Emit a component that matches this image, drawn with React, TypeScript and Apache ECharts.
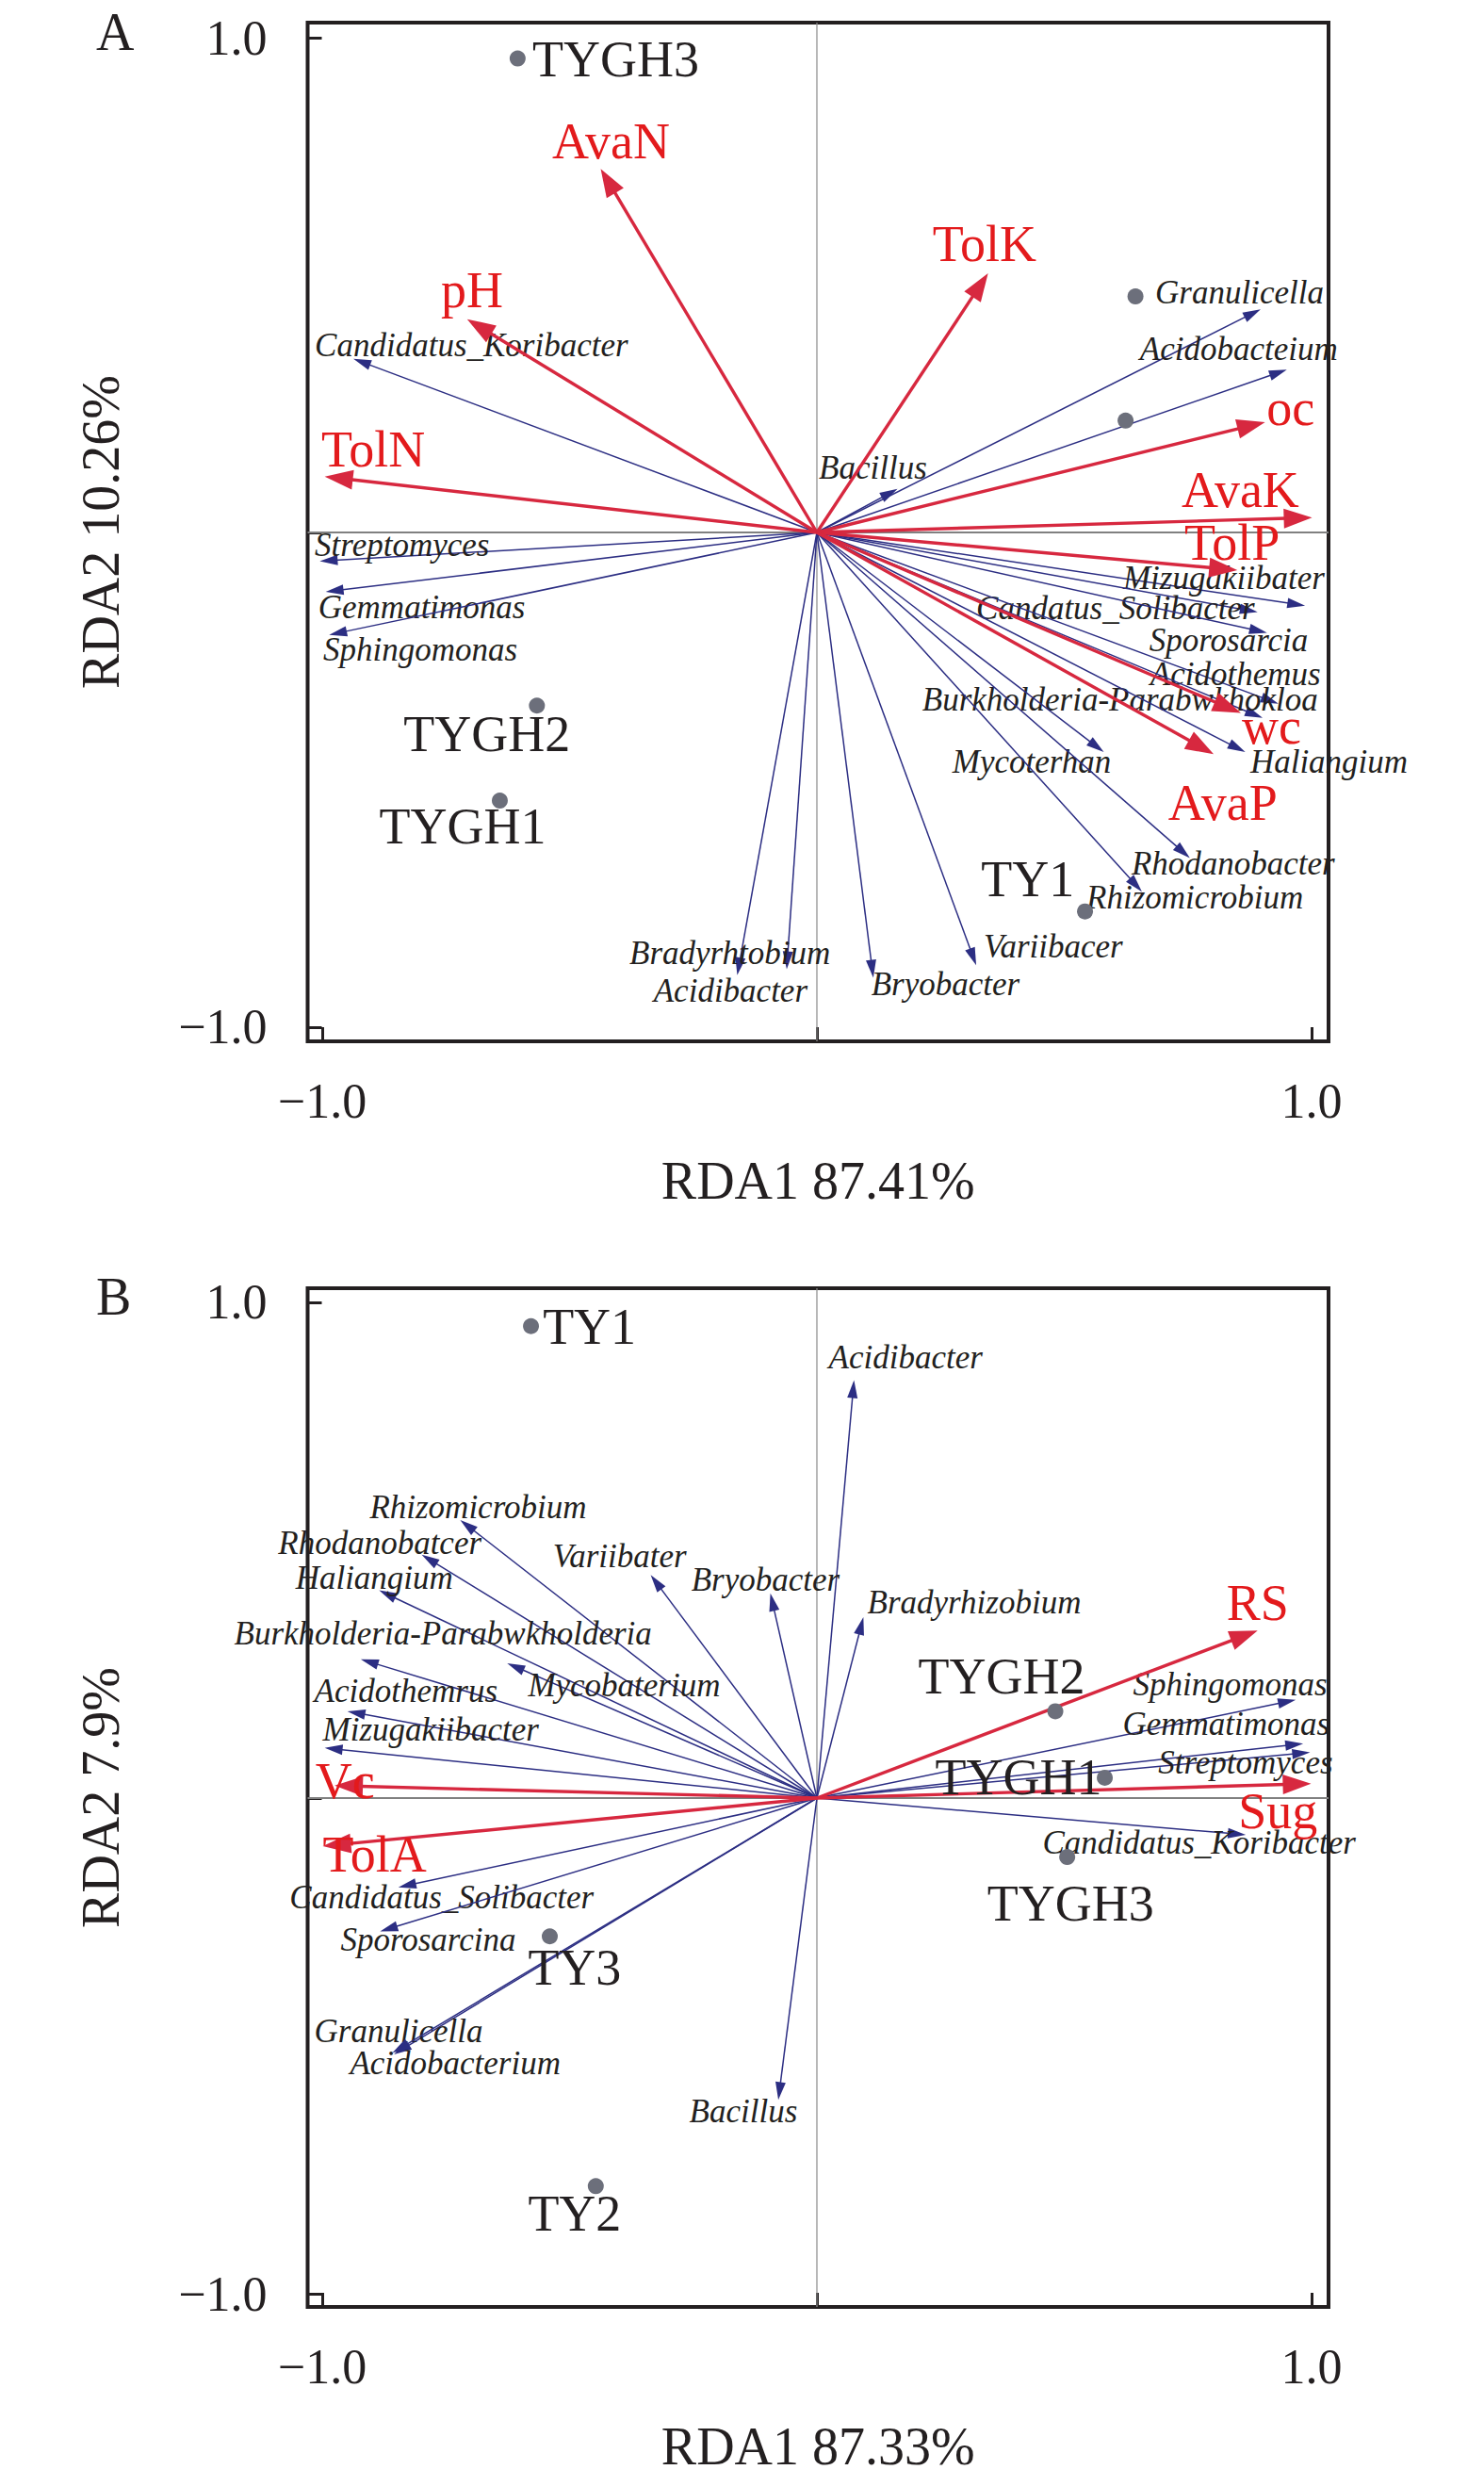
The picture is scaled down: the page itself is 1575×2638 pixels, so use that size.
import React, { useEffect, useRef } from 'react';
import * as echarts from 'echarts';

const FONT = '"Liberation Serif", "Times New Roman", serif';
const INK = '#231f20';
const RED_ARROW = '#d7283f';
const RED_TEXT = '#e31a1c';
const BLUE = '#2c2e83';
const DOT = '#6c6f7b';

// ---------- ticks ----------
const tickValues = [-1, 0, 1];
const tickLabelValues = [-1, 1];

// ---------- Panel A ----------
const axisNamesA = { x: 'RDA1 87.41%', y: 'RDA2 10.26%' };
const envA: [string, number, number][] = [
  ['AvaN', -0.437, 0.735],
  ['pH', -0.707, 0.431],
  ['TolN', -0.995, 0.113],
  ['TolK', 0.346, 0.524],
  ['oc', 0.906, 0.223],
  ['AvaK', 1.001, 0.03],
  ['TolP', 0.85, -0.076],
  ['wc', 0.857, -0.365],
  ['AvaP', 0.802, -0.448],
];
const envLabelA: [number, number][] = [
  [-0.535, 0.79], [-0.76, 0.49], [-1.002, 0.168], [0.234, 0.583], [0.909, 0.252],
  [0.737, 0.086], [0.743, -0.021], [0.859, -0.393], [0.71, -0.547],
];
const speciesA: [string, number, number][] = [
  ['Candidatus_Koribacter', -0.937, 0.351],
  ['Streptomyces', -1.005, -0.058],
  ['Gemmatimonas', -0.993, -0.12],
  ['Sphingomonas', -0.986, -0.207],
  ['Bacillus', 0.163, 0.088],
  ['Granulicella', 0.897, 0.451],
  ['Acidobacteium', 0.95, 0.329],
  ['Mizugakiibater', 0.987, -0.148],
  ['Candatus_Solibacter', 0.891, -0.161],
  ['Sporosarcia', 0.91, -0.203],
  ['Acidothemus', 0.933, -0.346],
  ['Burkholderia-Parabwkhokloa', 0.901, -0.375],
  ['Haliangium', 0.866, -0.444],
  ['Mycoterhan', 0.58, -0.444],
  ['Rhodanobacter', 0.754, -0.658],
  ['Rhizomicrobium', 0.657, -0.726],
  ['Variibacer', 0.322, -0.875],
  ['Bryobacter', 0.114, -0.9],
  ['Acidibacter', -0.061, -0.883],
  ['Bradyrhtobium', -0.161, -0.895],
];
const speciesLabelA: [number, number][] = [
  [-1.015, 0.379], [-1.015, -0.025], [-1.008, -0.152], [-0.998, -0.238], [0.004, 0.131],
  [0.684, 0.484], [0.653, 0.37], [0.619, -0.093], [0.322, -0.154], [0.672, -0.219],
  [0.674, -0.286], [0.213, -0.339], [0.876, -0.463], [0.274, -0.463], [0.636, -0.669],
  [0.545, -0.739], [0.337, -0.838], [0.11, -0.914], [-0.33, -0.926], [-0.379, -0.851],
];
const samplesA: [string, number, number][] = [
  ['TYGH3', -0.605, 0.958],
  ['TYGH2', -0.566, -0.35],
  ['TYGH1', -0.641, -0.542],
  ['TY1', 0.542, -0.766],
  ['', 0.644, 0.477],
  ['', 0.624, 0.226],
];
const sampleLabelA: [number, number, string][] = [
  [-0.575, 0.956, 'left'], [-0.667, -0.408, 'center'], [-0.716, -0.595, 'center'],
  [0.426, -0.701, 'center'], [0, 0, 'left'], [0, 0, 'left'],
];

// ---------- Panel B ----------
const axisNamesB = { x: 'RDA1 87.33%', y: 'RDA2 7.9%' };
const envB: [string, number, number][] = [
  ['RS', 0.891, 0.338],
  ['Sug', 0.999, 0.029],
  ['Vc', -0.975, 0.025],
  ['TolA', -0.999, -0.097],
];
const envLabelB: [number, number][] = [
  [0.828, 0.394], [0.852, -0.027], [-1.014, 0.034], [-0.999, -0.114],
];
const speciesB: [string, number, number][] = [
  ['Acidibacter', 0.075, 0.843],
  ['Rhizomicrobium', -0.721, 0.561],
  ['Rhodanobatcer', -0.799, 0.491],
  ['Haliangium', -0.885, 0.419],
  ['Variibater', -0.336, 0.45],
  ['Bryobacter', -0.094, 0.413],
  ['Bradyrhizobium', 0.094, 0.365],
  ['Burkholderia-Parabwkholderia', -0.922, 0.28],
  ['Mycobaterium', -0.626, 0.272],
  ['Acidothemrus', -0.949, 0.175],
  ['Mizugakiibacter', -0.995, 0.101],
  ['Sphingomonas', 0.968, 0.198],
  ['Gemmatimonas', 0.983, 0.11],
  ['Streptomyces', 0.997, 0.092],
  ['Candidatus_Koribacter', 0.867, -0.074],
  ['Candidatus_Solibacter', -0.846, -0.18],
  ['Sporosarcina', -0.883, -0.269],
  ['Granulicella', -0.855, -0.517],
  ['Acidobacterium', -0.858, -0.514],
  ['Bacillus', -0.078, -0.609],
];
const speciesLabelB: [number, number][] = [
  [0.024, 0.888], [-0.904, 0.586], [-1.089, 0.515], [-1.054, 0.443], [-0.534, 0.487],
  [-0.254, 0.441], [0.102, 0.395], [-1.178, 0.331], [-0.584, 0.228], [-1.016, 0.215],
  [-0.999, 0.137], [0.639, 0.23], [0.618, 0.15], [0.69, 0.072], [0.456, -0.091],
  [-1.066, -0.2], [-0.963, -0.287], [-1.016, -0.47], [-0.944, -0.536], [-0.258, -0.633],
];
const samplesB: [string, number, number][] = [
  ['TY1', -0.578, 0.952],
  ['TYGH2', 0.482, 0.175],
  ['TYGH1', 0.582, 0.041],
  ['TYGH3', 0.506, -0.119],
  ['TY3', -0.54, -0.279],
  ['TY2', -0.447, -0.783],
];
const sampleLabelB: [number, number, string][] = [
  [-0.554, 0.951, 'left'], [0.205, 0.245, 'left'], [0.239, 0.042, 'left'],
  [0.513, -0.213, 'center'], [-0.584, -0.342, 'left'], [-0.584, -0.839, 'left'],
];

type ArrowStyle = {
  color: string; textColor: string; lw: number; headLen: number; headW: number;
  fontSize: number; fontStyle: string;
};

const redStyle: ArrowStyle = { color: RED_ARROW, textColor: RED_TEXT, lw: 3.4, headLen: 30, headW: 21, fontSize: 54, fontStyle: 'normal' };
const blueStyle: ArrowStyle = { color: BLUE, textColor: INK, lw: 1.5, headLen: 19, headW: 11, fontSize: 35, fontStyle: 'italic' };

function arrowSeries(
  vecs: [string, number, number][],
  labels: [number, number][],
  st: ArrowStyle,
  axisIndex: number,
  z: number,
) {
  return {
    type: 'custom',
    xAxisIndex: axisIndex,
    yAxisIndex: axisIndex,
    clip: false,
    silent: true,
    z,
    encode: { x: 0, y: 1 },
    data: vecs.map((v, i) => [v[1], v[2], labels[i][0], labels[i][1]]),
    renderItem: (params: any, api: any) => {
      const i = params.dataIndex;
      const o = api.coord([0, 0]);
      const t = api.coord([api.value(0), api.value(1)]);
      const dx = t[0] - o[0];
      const dy = t[1] - o[1];
      const len = Math.hypot(dx, dy) || 1;
      const ux = dx / len;
      const uy = dy / len;
      const bx = t[0] - ux * st.headLen;
      const by = t[1] - uy * st.headLen;
      const px = -uy * (st.headW / 2);
      const py = ux * (st.headW / 2);
      const lp = api.coord([api.value(2), api.value(3)]);
      return {
        type: 'group',
        children: [
          {
            type: 'line',
            shape: { x1: o[0], y1: o[1], x2: bx + ux * 3, y2: by + uy * 3 },
            style: { stroke: st.color, lineWidth: st.lw },
          },
          {
            type: 'polygon',
            shape: { points: [[t[0], t[1]], [bx + px, by + py], [bx - px, by - py]] },
            style: { fill: st.color },
          },
          {
            type: 'text',
            x: lp[0],
            y: lp[1],
            style: {
              text: vecs[i][0],
              fill: st.textColor,
              fontSize: st.fontSize,
              fontFamily: FONT,
              fontStyle: st.fontStyle,
              align: 'left',
              verticalAlign: 'middle',
            },
          },
        ],
      };
    },
  };
}

function sampleSeries(
  pts: [string, number, number][],
  labels: [number, number, string][],
  axisIndex: number,
) {
  return {
    type: 'custom',
    xAxisIndex: axisIndex,
    yAxisIndex: axisIndex,
    clip: false,
    silent: true,
    z: 6,
    encode: { x: 0, y: 1 },
    data: pts.map((p, i) => [p[1], p[2], labels[i][0], labels[i][1]]),
    renderItem: (params: any, api: any) => {
      const i = params.dataIndex;
      const c = api.coord([api.value(0), api.value(1)]);
      const children: any[] = [
        { type: 'circle', shape: { cx: c[0], cy: c[1], r: 8.5 }, style: { fill: DOT } },
      ];
      if (pts[i][0]) {
        const lp = api.coord([api.value(2), api.value(3)]);
        children.push({
          type: 'text',
          x: lp[0],
          y: lp[1],
          style: {
            text: pts[i][0],
            fill: INK,
            fontSize: 54,
            fontFamily: FONT,
            align: labels[i][2],
            verticalAlign: 'middle',
          },
        });
      }
      return { type: 'group', children };
    },
  };
}

function zeroLineSeries(axisIndex: number) {
  return {
    type: 'custom',
    xAxisIndex: axisIndex,
    yAxisIndex: axisIndex,
    silent: true,
    z: 1,
    encode: { x: 0, y: 1 },
    data: [[0, 0]],
    renderItem: (params: any, api: any) => {
      const o = api.coord([0, 0]);
      const cs = params.coordSys;
      return {
        type: 'group',
        children: [
          { type: 'line', shape: { x1: cs.x, y1: o[1], x2: cs.x + cs.width, y2: o[1] }, style: { stroke: '#808080', lineWidth: 2 } },
          { type: 'line', shape: { x1: o[0], y1: cs.y, x2: o[0], y2: cs.y + cs.height }, style: { stroke: '#8a8a8a', lineWidth: 1.2 } },
        ],
      };
    },
  };
}

const tickFmt = (v: number) => (v < 0 ? '\u22121.0' : '1.0');

function xAxisCfg(gridIndex: number, name: string) {
  return {
    gridIndex,
    type: 'value',
    min: -1.0295,
    max: 1.0343,
    position: 'bottom',
    axisLine: { show: false, onZero: false },
    axisTick: { show: true, inside: true, length: 15, lineStyle: { color: INK, width: 3 }, customValues: tickValues },
    axisLabel: { show: true, customValues: tickLabelValues, formatter: tickFmt, fontSize: 52, fontFamily: FONT, color: INK, margin: 37 },
    splitLine: { show: false },
    name,
    nameLocation: 'middle',
    nameGap: 120,
    nameMoveOverlap: false,
    nameTextStyle: { fontSize: 56, fontFamily: FONT, color: INK },
  };
}

function yAxisCfg(gridIndex: number, name: string, min: number, max: number) {
  return {
    gridIndex,
    type: 'value',
    min,
    max,
    position: 'left',
    axisLine: { show: false, onZero: false },
    axisTick: { show: true, inside: true, length: 15, lineStyle: { color: INK, width: 3 }, customValues: tickValues },
    axisLabel: { show: true, customValues: tickLabelValues, formatter: tickFmt, fontSize: 52, fontFamily: FONT, color: INK, margin: 43 },
    splitLine: { show: false },
    name,
    nameLocation: 'middle',
    nameRotate: 90,
    nameGap: 192,
    nameMoveOverlap: false,
    nameTextStyle: { fontSize: 56, fontFamily: FONT, color: INK },
  };
}

export default function App() {
  const ref = useRef<HTMLDivElement>(null);
  useEffect(() => {
    if (!ref.current) return;
    const chart = echarts.init(ref.current, undefined, { renderer: 'svg' });
    const gridBase = {
      show: true,
      borderColor: INK,
      borderWidth: 4,
      backgroundColor: 'transparent',
      left: 326.5,
      width: 1083.5,
      height: 1081,
      containLabel: false,
      outerBoundsMode: 'none',
    };
    chart.setOption({
      animation: false,
      backgroundColor: '#ffffff',
      grid: [
        { ...gridBase, top: 24 },
        { ...gridBase, top: 1367 },
      ],
      xAxis: [xAxisCfg(0, axisNamesA.x), xAxisCfg(1, axisNamesB.x)],
      yAxis: [
        yAxisCfg(0, axisNamesA.y, -1.0286, 1.0305),
        yAxisCfg(1, axisNamesB.y, -1.0266, 1.0285),
      ],
      graphic: [
        { type: 'text', x: 102, y: 34, style: { text: 'A', fontSize: 56, fontFamily: FONT, fill: INK, verticalAlign: 'middle' } },
        { type: 'text', x: 102, y: 1376, style: { text: 'B', fontSize: 56, fontFamily: FONT, fill: INK, verticalAlign: 'middle' } },
      ],
      series: [
        zeroLineSeries(0),
        arrowSeries(speciesA, speciesLabelA, blueStyle, 0, 3),
        arrowSeries(envA, envLabelA, redStyle, 0, 4),
        sampleSeries(samplesA, sampleLabelA, 0),
        zeroLineSeries(1),
        arrowSeries(speciesB, speciesLabelB, blueStyle, 1, 3),
        arrowSeries(envB, envLabelB, redStyle, 1, 4),
        sampleSeries(samplesB, sampleLabelB, 1),
      ],
    });
    return () => chart.dispose();
  }, []);
  return (
    <div
      ref={ref}
      style={{ position: 'absolute', left: 0, top: 0, width: 1575, height: 2638, background: '#fff' }}
    />
  );
}
